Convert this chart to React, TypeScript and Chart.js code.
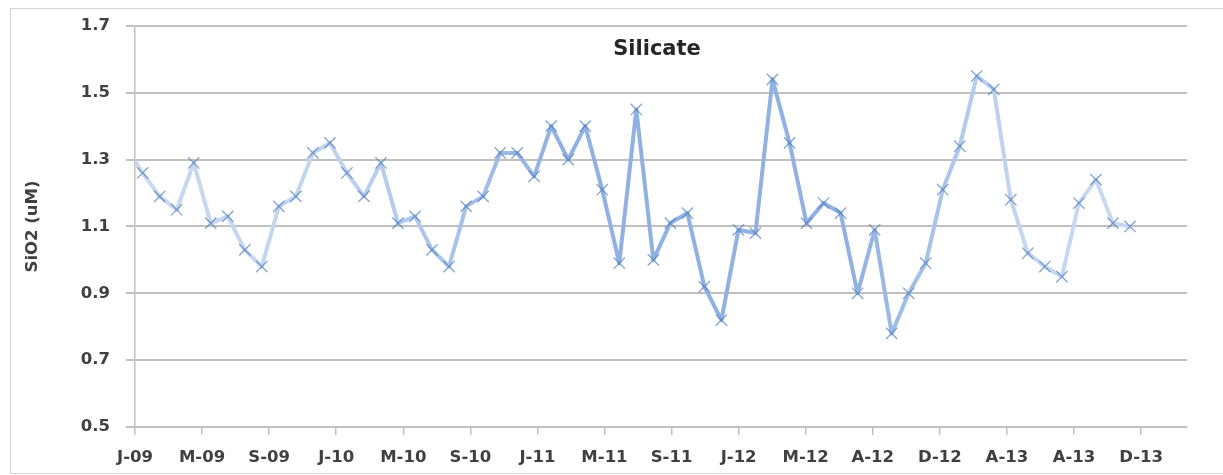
import React, { useEffect, useRef } from 'react';
import { Chart, registerables } from 'chart.js';

Chart.register(...registerables);

// ---- data ----
const chartTitle = 'Silicate';
const yAxisTitle = 'SiO2 (uM)';
const tickLabels = ['J-09', 'M-09', 'S-09', 'J-10', 'M-10', 'S-10', 'J-11', 'M-11', 'S-11', 'J-12', 'M-12', 'A-12', 'D-12', 'A-13', 'A-13', 'D-13'];
const monthsPerTick = 3.94;
const firstMonth = -0.55;
const xMax = 61.8;
const silicate = [
  1.34, 1.26, 1.19, 1.15, 1.29, 1.11, 1.13, 1.03, 0.98, 1.16, 1.19, 1.32, 1.35,
  1.26, 1.19, 1.29, 1.11, 1.13, 1.03, 0.98, 1.16, 1.19, 1.32, 1.32, 1.25, 1.40,
  1.30, 1.40, 1.21, 0.99, 1.45, 1.00, 1.11, 1.14, 0.92, 0.82, 1.09, 1.08, 1.54,
  1.35, 1.11, 1.17, 1.14, 0.90, 1.09, 0.78, 0.90, 0.99, 1.21, 1.34, 1.55, 1.51,
  1.18, 1.02, 0.98, 0.95, 1.17, 1.24, 1.11, 1.10,
];
const yMin = 0.5;
const yMax = 1.7;
const yStep = 0.2;

const FONT = "'DejaVu Sans', sans-serif";
const TEXT = '#404040';
const GRID = '#c0c0c0';

export default function App() {
  const ref = useRef<HTMLCanvasElement | null>(null);

  useEffect(() => {
    document.body.style.margin = '0';
    document.body.style.overflow = 'hidden';
    const canvas = ref.current;
    if (!canvas) return;

    const titlePlugin = {
      id: 'silTitle',
      afterDraw(chart: any) {
        const ctx = chart.ctx;
        ctx.save();
        ctx.font = `bold 21px ${FONT}`;
        ctx.fillStyle = '#262626';
        ctx.textAlign = 'center';
        ctx.textBaseline = 'middle';
        ctx.fillText(chartTitle, 657, 50);
        ctx.restore();
      },
    };

    const lineColor = (context: any) => {
      const chart = context.chart;
      const area = chart.chartArea;
      if (!area) return '#a9c4ea';
      const g = chart.ctx.createLinearGradient(area.left, 0, area.right, 0);
      g.addColorStop(0, '#c8d9f1');
      g.addColorStop(0.17, '#c2d5ef');
      g.addColorStop(0.3, '#a9c4ea');
      g.addColorStop(0.4, '#90b1e2');
      g.addColorStop(0.68, '#90b1e2');
      g.addColorStop(0.76, '#a9c3e9');
      g.addColorStop(0.84, '#c4d6f0');
      g.addColorStop(1, '#cadbf2');
      return g;
    };

    const chart = new Chart(canvas, {
      type: 'line',
      data: {
        datasets: [
          {
            data: silicate.map((v, i) => ({ x: firstMonth + i, y: v })),
            borderColor: lineColor,
            borderWidth: 4,
            borderJoinStyle: 'round',
            borderCapStyle: 'round',
            pointStyle: 'crossRot',
            pointRadius: 8,
            pointBorderWidth: 1.3,
            pointBorderColor: 'rgba(79,125,190,0.7)',
            pointBackgroundColor: 'rgba(79,125,190,0.7)',
            tension: 0,
          },
        ],
      },
      options: {
        animation: false,
        responsive: false,
        devicePixelRatio: 1,
        layout: { padding: { left: 0, right: 36, top: 23, bottom: 0 } },
        plugins: {
          legend: { display: false },
          tooltip: { enabled: false },
          title: { display: false },
        },
        scales: {
          x: {
            type: 'linear',
            min: 0,
            max: xMax,
            afterBuildTicks: (s: any) => {
              s.ticks = tickLabels.map((_, i) => ({ value: i * monthsPerTick }));
            },
            afterFit: (s: any) => {
              s.height = 48;
            },
            ticks: {
              callback: (_v: any, i: number) => tickLabels[i],
              autoSkip: false,
              maxRotation: 0,
              padding: 13,
              color: TEXT,
              font: { family: FONT, size: 16.5, weight: 'bold' },
            },
            grid: { drawOnChartArea: false, drawTicks: true, tickLength: 8, color: GRID, lineWidth: 1.5 },
            border: { color: GRID, width: 1.5 },
          },
          y: {
            min: yMin,
            max: yMax,
            afterFit: (s: any) => {
              s.width = 135;
            },
            ticks: {
              stepSize: yStep,
              callback: (v: any) => Number(v).toFixed(1),
              padding: 16,
              color: TEXT,
              font: { family: FONT, size: 16.5, weight: 'bold' },
            },
            grid: { color: GRID, lineWidth: 2, tickLength: 9 },
            border: { color: GRID, width: 1.5 },
            title: {
              display: true,
              text: yAxisTitle,
              color: TEXT,
              font: { family: FONT, size: 16.5, weight: 'bold' },
              padding: { top: 23, bottom: 0 },
            },
          },
        },
      },
      plugins: [titlePlugin],
    } as any);

    return () => chart.destroy();
  }, []);

  return (
    <div style={{ position: 'relative', width: 1223, height: 475, overflow: 'hidden' }}>
      <canvas ref={ref} width={1223} height={475} style={{ position: 'absolute', left: 0, top: 0, display: 'block' }} />
      <div
        style={{
          position: 'absolute',
          left: 10,
          top: 8,
          width: 1240,
          height: 464,
          border: '1px solid #d4d4d4',
          pointerEvents: 'none',
        }}
      />
    </div>
  );
}
